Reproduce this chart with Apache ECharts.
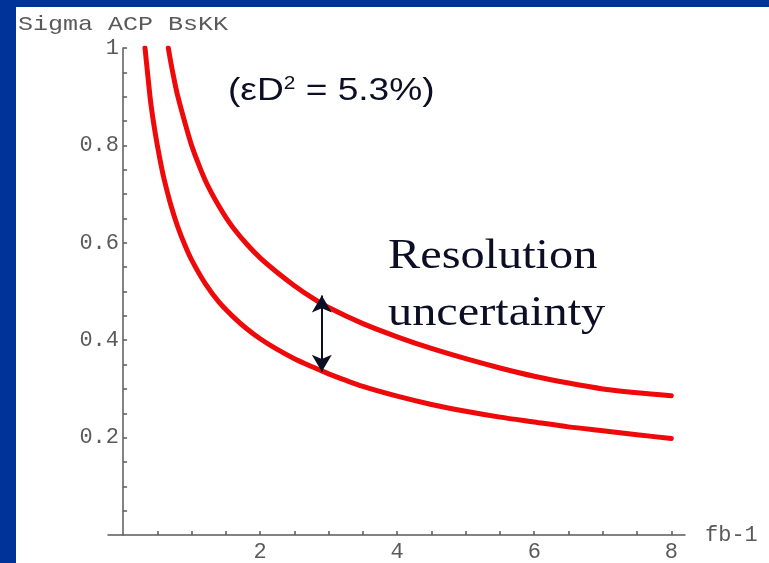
<!DOCTYPE html>
<html>
<head>
<meta charset="utf-8">
<script src="https://cdn.jsdelivr.net/npm/echarts@6/dist/echarts.min.js"></script>
<style>
  html, body { margin: 0; padding: 0; background: #003399; width: 769px; height: 563px; overflow: hidden; }
  #chart { position: absolute; left: 16px; top: 7px; width: 753px; height: 556px; background: #ffffff; }
</style>
</head>
<body>
<div id="chart"></div>
<script>
// ---- data ----
const lowerX = [0.32, 0.36, 0.4, 0.45, 0.5, 0.55, 0.6, 0.7, 0.8, 0.9, 1.0, 1.2, 1.4, 1.6, 1.8, 2.0, 2.25, 2.5, 2.75, 3.0, 3.5, 4.0, 4.5, 5.0, 5.5, 6.0, 6.5, 7.0, 7.5, 8.0];
const lowerY = [1.0, 0.945, 0.892, 0.842, 0.80, 0.763, 0.73, 0.676, 0.632, 0.596, 0.565, 0.516, 0.478, 0.449, 0.424, 0.403, 0.381, 0.362, 0.346, 0.331, 0.305, 0.285, 0.268, 0.254, 0.242, 0.232, 0.222, 0.214, 0.206, 0.198];
const upperX = [0.66, 0.7, 0.75, 0.8, 0.9, 1.0, 1.1, 1.2, 1.3, 1.4, 1.5, 1.6, 1.8, 2.0, 2.25, 2.5, 2.75, 3.0, 3.5, 4.0, 4.5, 5.0, 5.5, 6.0, 6.5, 7.0, 7.5, 8.0];
const upperY = [1.0, 0.968, 0.932, 0.90, 0.848, 0.80, 0.762, 0.728, 0.70, 0.675, 0.652, 0.632, 0.598, 0.569, 0.539, 0.512, 0.488, 0.467, 0.434, 0.407, 0.383, 0.362, 0.343, 0.326, 0.312, 0.300, 0.292, 0.286];
const arrowX = 2.9;
const arrowFrom = 0.335;
const arrowTo = 0.492;
const xLabelValues = [2, 4, 6, 8];
const xTickValues = [0.5, 1, 1.5, 2, 2.5, 3, 3.5, 4, 4.5, 5, 5.5, 6, 6.5, 7, 7.5, 8];
const yLabelValues = [0.2, 0.4, 0.6, 0.8, 1];
const yTickValues = [0.05, 0.1, 0.15, 0.2, 0.25, 0.3, 0.35, 0.4, 0.45, 0.5, 0.55, 0.6, 0.65, 0.7, 0.75, 0.8, 0.85, 0.9, 0.95, 1];
const titleText = 'Sigma ACP BsKK';
const xName = 'fb-1';

const mono = '"Liberation Mono", "Courier New", monospace';
const axisGray = '#5a5a5a';
const red = '#ee0a0a';
const ink = '#0b0e24';

const chart = echarts.init(document.getElementById('chart'), null, { renderer: 'canvas' });
chart.setOption({
  animation: false,
  backgroundColor: '#ffffff',
  grid: { left: 92, right: 84, top: 41, bottom: 26 },
  xAxis: {
    type: 'value', min: -0.22, max: 8.2,
    name: xName, nameLocation: 'end', nameGap: 20,
    nameTextStyle: { fontFamily: mono, fontSize: 22, color: axisGray, verticalAlign: 'middle' },
    axisLine: { onZero: false, lineStyle: { color: axisGray, width: 1.5 } },
    axisTick: { show: true, inside: true, length: 4, customValues: xTickValues, lineStyle: { color: axisGray, width: 1.5 } },
    axisLabel: { customValues: xLabelValues, fontFamily: mono, fontSize: 22, color: axisGray, margin: 6 },
    splitLine: { show: false }
  },
  yAxis: {
    type: 'value', min: 0, max: 1,
    axisLine: { show: true, onZero: true, lineStyle: { color: axisGray, width: 1.5 } },
    axisTick: { show: true, inside: true, length: 4, customValues: yTickValues, lineStyle: { color: axisGray, width: 1.5 } },
    axisLabel: { customValues: yLabelValues, fontFamily: mono, fontSize: 22, color: axisGray, margin: -11 },
    splitLine: { show: false }
  },
  series: [
    {
      type: 'line', name: 'lower', smooth: 0.3, symbol: 'none',
      data: lowerX.map((x, i) => [x, lowerY[i]]),
      lineStyle: { color: red, width: 5, cap: 'round', join: 'round' }
    },
    {
      type: 'line', name: 'upper', smooth: 0.3, symbol: 'none',
      data: upperX.map((x, i) => [x, upperY[i]]),
      lineStyle: { color: red, width: 5, cap: 'round', join: 'round' },
      markLine: {
        silent: true,
        symbol: ['arrow', 'arrow'],
        symbolSize: [15, 17],
        label: { show: false },
        emphasis: { disabled: true },
        lineStyle: { color: ink, width: 2, type: 'solid' },
        data: [[{ coord: [arrowX, arrowFrom] }, { coord: [arrowX, arrowTo] }]]
      }
    }
  ],
  graphic: [
    {
      type: 'text', x: 2, y: 17, scaleX: 1.19,
      style: { text: titleText, font: '21px ' + mono, fill: axisGray, verticalAlign: 'middle' }
    },
    {
      type: 'text', x: 212, y: 84, scaleX: 1.16,
      style: {
        text: '(εD{sup|2} = 5.3%)',
        font: '32px "Liberation Sans", Arial, sans-serif',
        fill: ink, verticalAlign: 'middle',
        rich: { sup: { font: '18px "Liberation Sans", Arial, sans-serif', fill: ink, verticalAlign: 'top', padding: [0, 0, 12, 0] } }
      }
    },
    {
      type: 'text', x: 372, y: 250, scaleX: 1.15,
      style: { text: 'Resolution', font: '42px "Liberation Serif", "Times New Roman", serif', fill: ink, verticalAlign: 'middle' }
    },
    {
      type: 'text', x: 372, y: 307, scaleX: 1.15,
      style: { text: 'uncertainty', font: '42px "Liberation Serif", "Times New Roman", serif', fill: ink, verticalAlign: 'middle' }
    }
  ]
});
</script>
</body>
</html>
